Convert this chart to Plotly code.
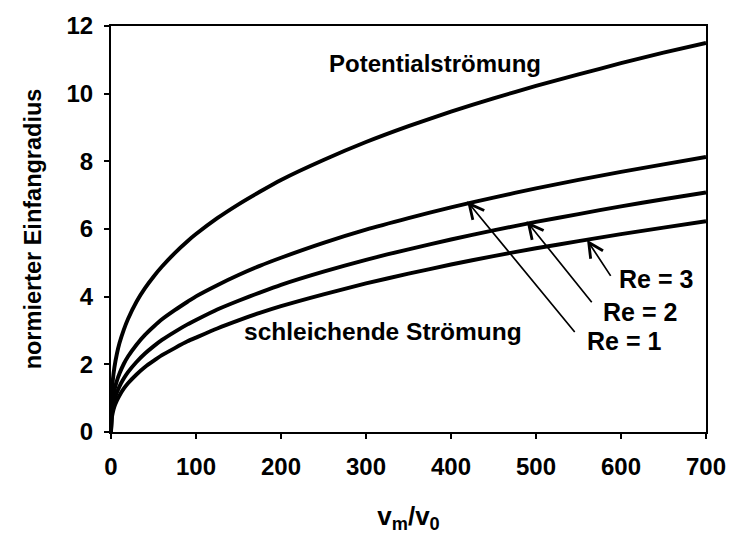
import plotly.graph_objects as go

# ---- data ----
x_ratio = [0, 1, 2, 4, 7, 10, 15, 20, 30, 40, 50, 60, 75, 90, 100, 125, 150, 175, 200,
           250, 300, 350, 400, 450, 500, 550, 600, 650, 700]
potential = [0, 1.18, 1.50, 1.91, 2.32, 2.63, 3.02, 3.34, 3.85, 4.25, 4.59, 4.89, 5.29, 5.64, 5.85,
             6.32, 6.73, 7.10, 7.45, 8.04, 8.57, 9.04, 9.47, 9.86, 10.23, 10.57, 10.9, 11.21, 11.5]
re_1 = [0, 0.75, 0.97, 1.24, 1.52, 1.73, 2.01, 2.23, 2.58, 2.87, 3.11, 3.33, 3.60, 3.85, 4.01,
        4.34, 4.64, 4.91, 5.15, 5.59, 5.98, 6.32, 6.64, 6.93, 7.2, 7.45, 7.69, 7.91, 8.13]
re_2 = [0, 0.55, 0.72, 0.95, 1.17, 1.35, 1.58, 1.77, 2.07, 2.32, 2.53, 2.72, 2.96, 3.18, 3.31,
        3.62, 3.88, 4.12, 4.35, 4.74, 5.09, 5.4, 5.69, 5.96, 6.21, 6.44, 6.67, 6.88, 7.08]
re_3 = [0, 0.42, 0.56, 0.75, 0.93, 1.08, 1.28, 1.44, 1.70, 1.92, 2.10, 2.27, 2.48, 2.68, 2.79,
        3.06, 3.30, 3.52, 3.72, 4.07, 4.39, 4.68, 4.95, 5.2, 5.43, 5.64, 5.85, 6.04, 6.23]

series_names = ["Potentialströmung", "Re = 1", "Re = 2", "Re = 3"]
series_values = [potential, re_1, re_2, re_3]

# text labels: (text, x, y, size)
text_labels = [
    ("Potentialströmung", 381, 10.9, 24),
    ("schleichende Strömung", 320, 2.97, 24.5),
    ("Re = 1", 603, 2.68, 25),
    ("Re = 2", 622, 3.55, 25),
    ("Re = 3", 641, 4.51, 25),
]
# arrows: (tip_x, tip_y, tail_x, tail_y)
arrows = [
    (419, 6.82, 547, 2.91),
    (489, 6.23, 567, 3.79),
    (560, 5.68, 589, 4.57),
]

x_ticks = [0, 100, 200, 300, 400, 500, 600, 700]
y_ticks = [0, 2, 4, 6, 8, 10, 12]

FONT = "Arial, Liberation Sans, sans-serif"

fig = go.Figure()
for name, vals in zip(series_names, series_values):
    fig.add_trace(go.Scatter(
        x=x_ratio, y=vals, mode="lines", name=name,
        line=dict(color="black", width=3.9, shape="spline", smoothing=0.6),
        showlegend=False, hoverinfo="skip",
    ))

for txt, tx, ty, sz in text_labels:
    fig.add_annotation(x=tx, y=ty, xref="x", yref="y", text=txt, showarrow=False,
                       font=dict(family=FONT, size=sz, color="black", weight="bold"))

for hx, hy, tx, ty in arrows:
    fig.add_annotation(x=hx, y=hy, ax=tx, ay=ty, xref="x", yref="y", axref="x", ayref="y",
                       text="", showarrow=True, arrowhead=5, arrowsize=1.7, arrowwidth=1.7,
                       arrowcolor="black", standoff=0, startstandoff=0)

fig.update_layout(
    width=738, height=545,
    margin=dict(l=111, r=25, t=20, b=113),
    paper_bgcolor="white", plot_bgcolor="white",
    font=dict(family=FONT, size=24, color="black", weight="bold"),
    xaxis=dict(
        range=[0, 700], tickvals=x_ticks, ticks="outside", ticklen=5, tickwidth=1.5,
        tickcolor="black", showline=True, linecolor="black", linewidth=2, mirror=True,
        showgrid=False, zeroline=False, tickfont=dict(size=24),
        ticklabelstandoff=7,
        title=dict(text="v<sub>m</sub>/v<sub>0</sub>", font=dict(size=26), standoff=28),
    ),
    yaxis=dict(
        range=[0, 12], tickvals=y_ticks, ticks="outside", ticklen=5, tickwidth=1.5,
        tickcolor="black", showline=True, linecolor="black", linewidth=2, mirror=True,
        showgrid=False, zeroline=False, tickfont=dict(size=24),
        ticklabelstandoff=6,
        title=dict(text="normierter Einfangradius", font=dict(size=23.5), standoff=18),
    ),
)

fig.write_html("out.html")
